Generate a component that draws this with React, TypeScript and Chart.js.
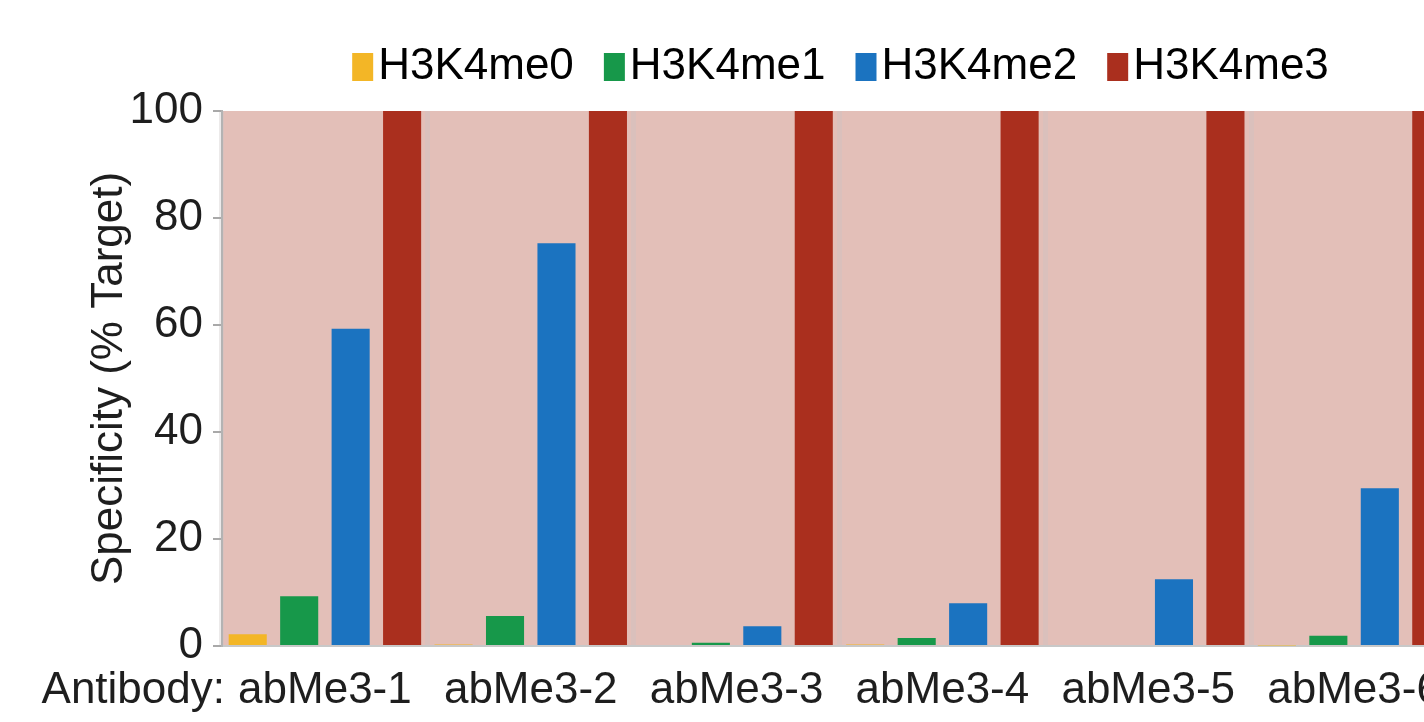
import React, { useEffect, useRef } from 'react';
import { Chart, registerables } from 'chart.js';

Chart.register(...registerables);

// ---- data ----
const categories = ['abMe3-1', 'abMe3-2', 'abMe3-3', 'abMe3-4', 'abMe3-5', 'abMe3-6'];
const seriesNames = ['H3K4me0', 'H3K4me1', 'H3K4me2', 'H3K4me3'];
const me0 = [2.2, 0.3, 0.2, 0.3, 0, 0.1];
const me1 = [9.3, 5.6, 0.6, 1.5, 0, 1.9];
const me2 = [59.3, 75.3, 3.7, 8.0, 12.5, 29.5];
const me3 = [100, 100, 100, 100, 100, 100];
const yTicks = [0, 20, 40, 60, 80, 100];
const yTitle = 'Specificity (% Target)';
const rowLabel = 'Antibody:';

// ---- style ----
const colors = ['#f3b626', '#17984a', '#1b73c0', '#aa2f1e'];
const plotBg = '#e3bfb8';
const FONT = '"Liberation Sans", Arial, Helvetica, sans-serif';
const TEXT = '#1e1e1e';

export default function App() {
  const ref = useRef<HTMLCanvasElement>(null);

  useEffect(() => {
    const canvas = ref.current;
    if (!canvas) return;

    const makeMarker = (color: string) => {
      const c = document.createElement('canvas');
      c.width = 60;
      c.height = 28;
      const g = c.getContext('2d')!;
      g.fillStyle = color;
      g.fillRect(38, 0, 21, 28);
      return c;
    };
    const markers = colors.map(makeMarker);

    const bgPlugin = {
      id: 'plotBg',
      beforeDraw(chart: any) {
        const { ctx, chartArea: a } = chart;
        ctx.save();
        ctx.fillStyle = plotBg;
        ctx.fillRect(a.left, a.top, a.right - a.left, a.bottom - a.top);
        ctx.restore();
      },
      afterDraw(chart: any) {
        const { ctx, chartArea: a } = chart;
        const xs = chart.scales.x;
        ctx.save();
        ctx.font = `44px ${FONT}`;
        ctx.fillStyle = TEXT;
        ctx.textAlign = 'right';
        ctx.textBaseline = 'middle';
        ctx.fillText(rowLabel, a.left + 3, xs.top + 18 + 26.4);
        ctx.restore();
      },
    };

    const legendTweak = {
      id: 'legendTweak',
      beforeUpdate(chart: any) {
        const lg = chart.legend;
        if (lg && !lg._tweaked) {
          const f = lg.fit;
          lg.fit = function () {
            f.call(this);
            this.height += 12;
          };
          lg._tweaked = true;
        }
      },
      afterLayout(chart: any) {
        const lg = chart.legend;
        if (lg) {
          lg.left += 58;
          lg.right += 58;
        }
      },
    };

    const series = [me0, me1, me2, me3];

    const chart = new Chart(canvas, {
      type: 'bar',
      data: {
        labels: categories,
        datasets: seriesNames.map((name, i) => ({
          label: name,
          data: series[i],
          backgroundColor: colors[i],
          borderWidth: 0,
          barPercentage: 0.74,
          categoryPercentage: 1,
        })),
      },
      options: {
        responsive: false,
        animation: false,
        devicePixelRatio: 1,
        events: [],
        layout: { padding: { top: 35, left: 88, right: 13, bottom: 5 } },
        plugins: {
          tooltip: { enabled: false },
          legend: {
            display: true,
            position: 'top',
            labels: {
              usePointStyle: true,
              pointStyleWidth: 24,
              boxHeight: 28,
              padding: 10,
              color: TEXT,
              font: { family: FONT, size: 44 },
              generateLabels: (ch: any) =>
                ch.data.datasets.map((ds: any, i: number) => ({
                  text: ds.label,
                  fillStyle: colors[i],
                  strokeStyle: colors[i],
                  lineWidth: 0,
                  pointStyle: markers[i],
                  datasetIndex: i,
                  hidden: false,
                })),
            },
          },
        },
        scales: {
          x: {
            type: 'category',
            offset: true,
            afterFit: (s: any) => {
              s.height = 71;
            },
            grid: {
              display: true,
              offset: true,
              drawOnChartArea: true,
              drawTicks: false,
              color: 'rgba(200,196,196,0.35)',
              lineWidth: 5,
            },
            border: { display: true, color: '#c8c8c8', width: 2 },
            ticks: {
              font: { family: FONT, size: 44, lineHeight: 1.2 },
              color: TEXT,
              padding: 18,
              maxRotation: 0,
              autoSkip: false,
            },
          },
          y: {
            min: 0,
            max: 100,
            afterBuildTicks: (s: any) => {
              s.ticks = yTicks.map((v) => ({ value: v }));
            },
            afterFit: (s: any) => {
              s.width = 134;
            },
            grid: {
              display: true,
              drawOnChartArea: false,
              drawTicks: true,
              tickLength: 9,
              color: '#a9a9a9',
              lineWidth: 2,
            },
            border: { display: true, color: '#b3b3b3', width: 2 },
            ticks: {
              font: { family: FONT, size: 44, lineHeight: 1.2 },
              color: TEXT,
              padding: 10,
            },
            title: {
              display: true,
              text: yTitle,
              color: TEXT,
              font: { family: FONT, size: 44, lineHeight: 1 },
              padding: { top: 0, bottom: 0 },
            },
          },
        },
      },
      plugins: [bgPlugin, legendTweak],
    } as any);

    return () => chart.destroy();
  }, []);

  return (
    <div
      style={{
        position: 'fixed',
        left: 0,
        top: 0,
        width: 1424,
        height: 722,
        overflow: 'hidden',
        background: '#ffffff',
      }}
    >
      <canvas ref={ref} width={1470} height={722} style={{ display: 'block' }} />
    </div>
  );
}
